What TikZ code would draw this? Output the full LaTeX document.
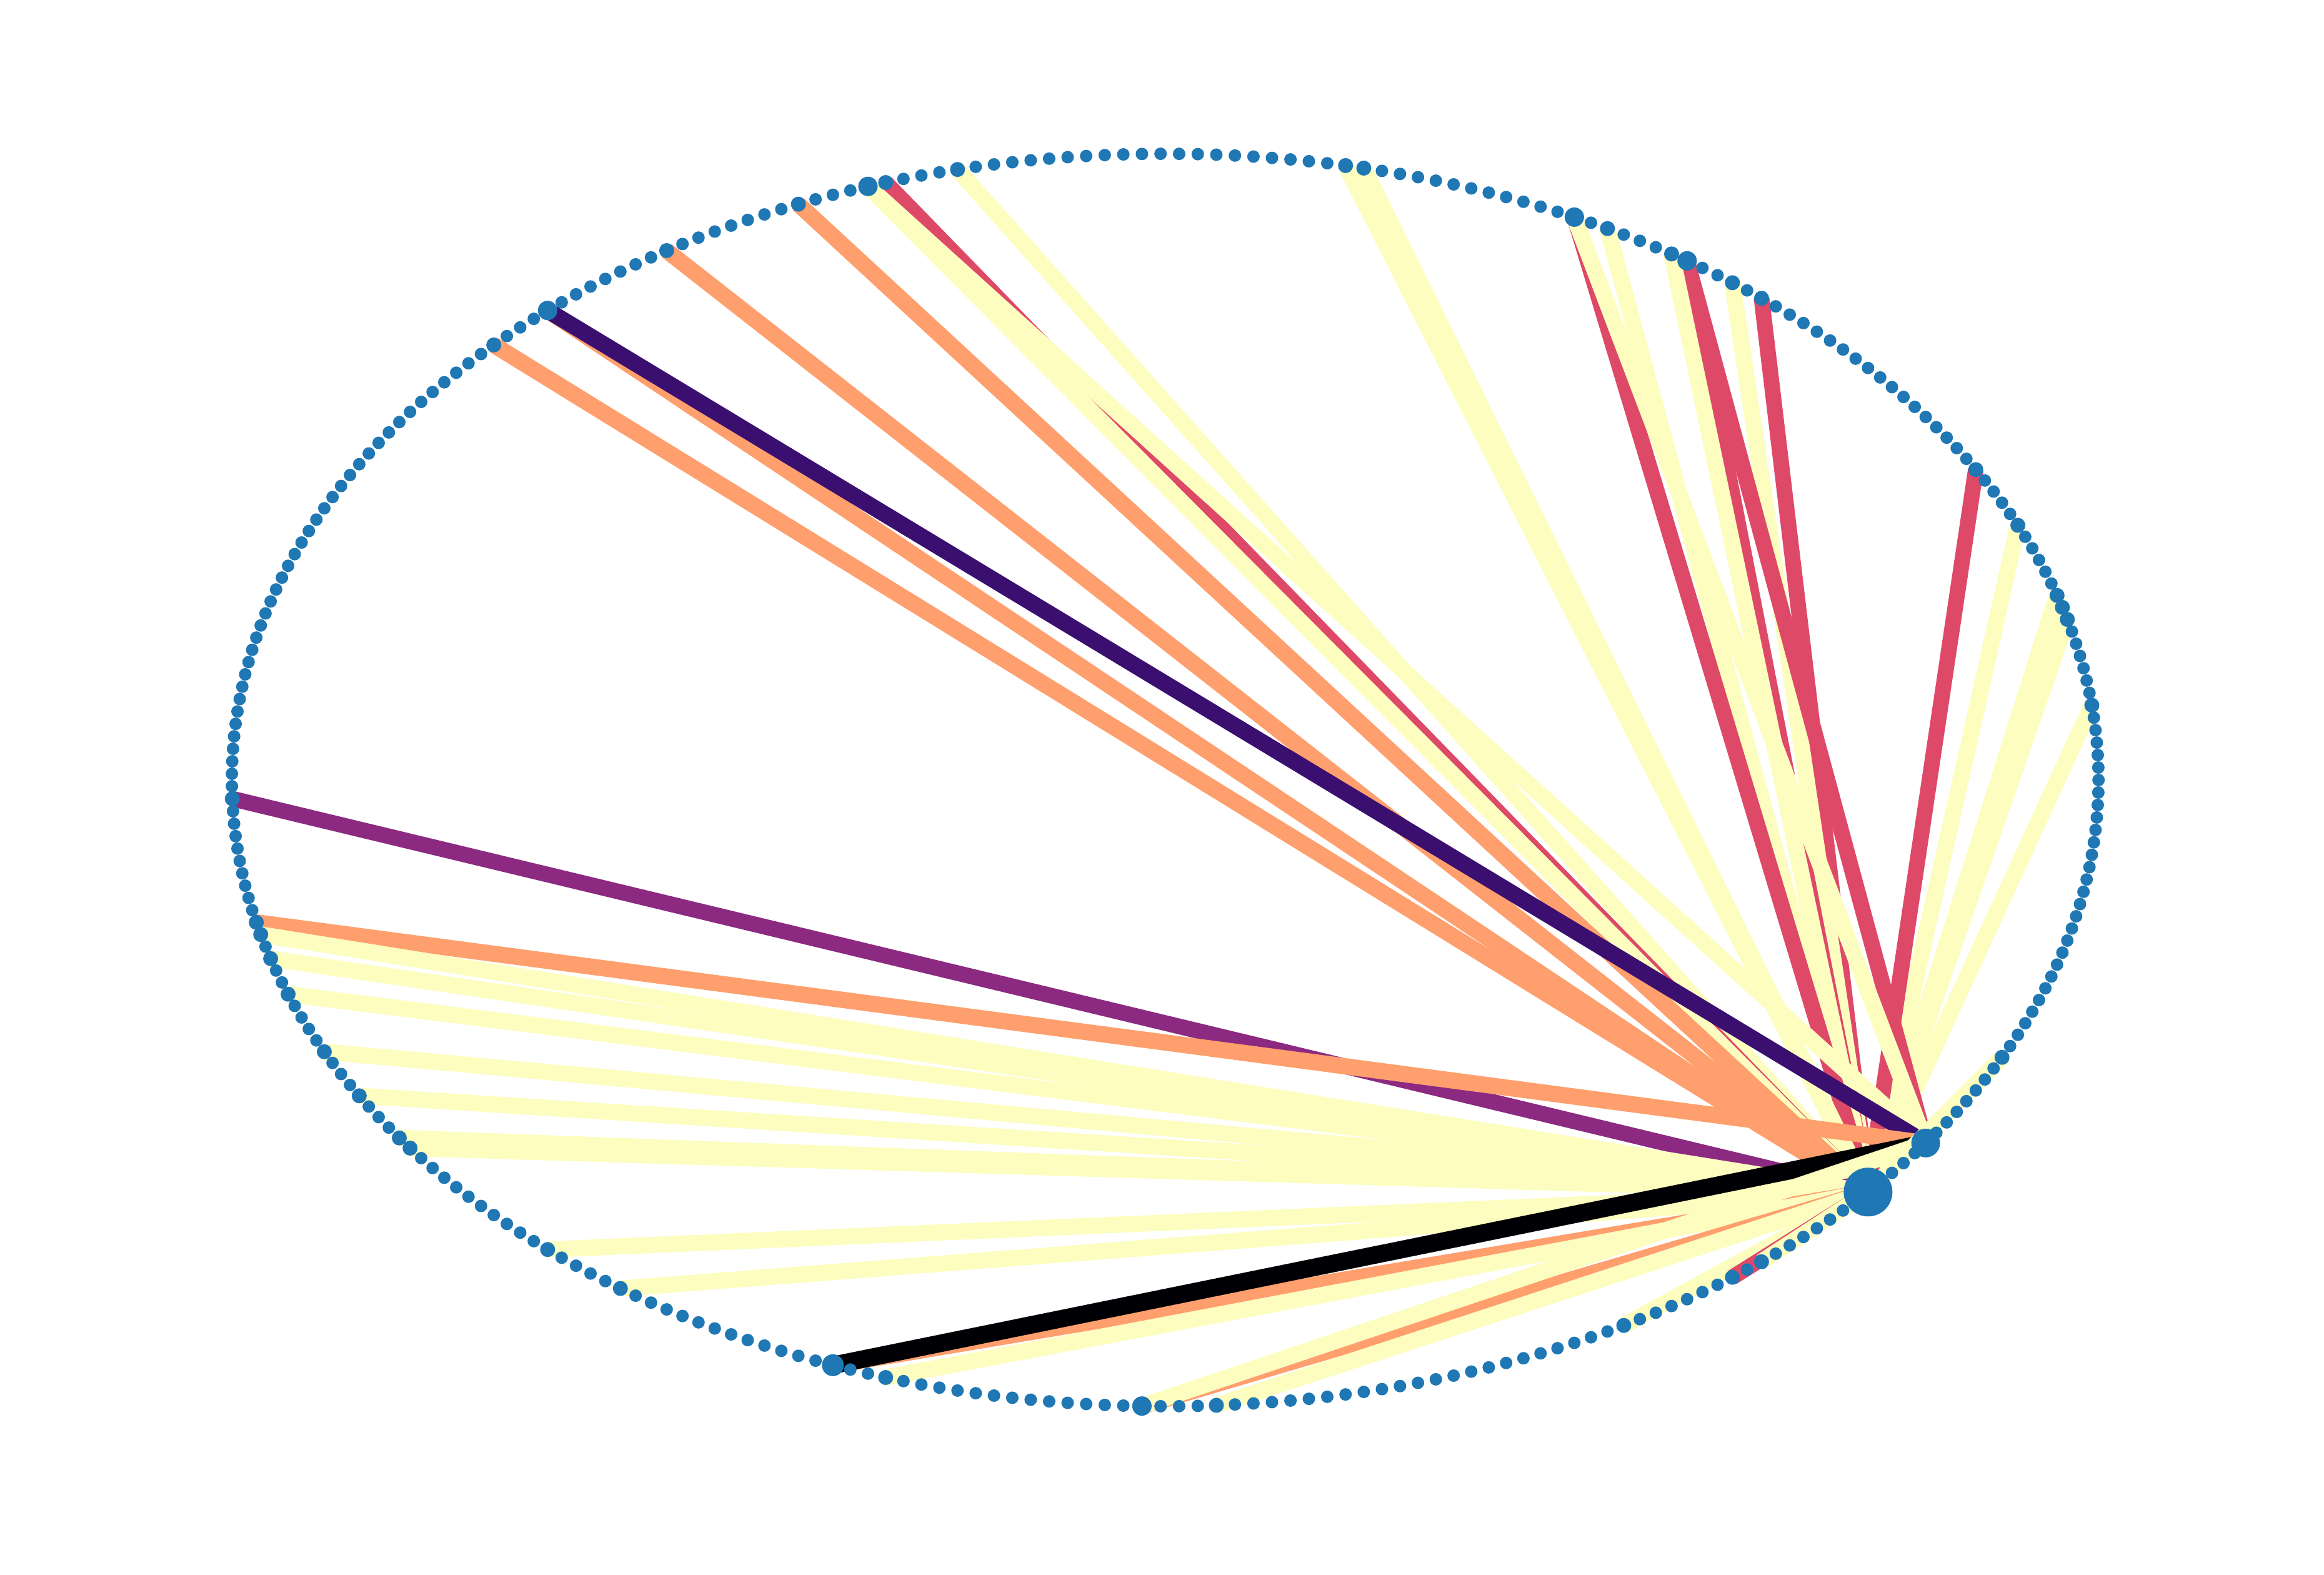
\documentclass[tikz,border=0pt]{standalone}
\usetikzlibrary{backgrounds}
\definecolor{nodeblue}{HTML}{1F77B4}
\definecolor{wblack}{HTML}{000004}
\definecolor{wdark}{HTML}{3B0F70}
\definecolor{wpurple}{HTML}{8C2981}
\definecolor{wred}{HTML}{DE4968}
\definecolor{worange}{HTML}{FE9F6D}
\definecolor{wyellow}{HTML}{FCFDBF}
\tikzset{
  dot/.style={circle, fill=nodeblue, inner sep=0pt, minimum size=0.2cm},
  lblack/.style={draw=wblack, line width=0.28cm},
  ldark/.style={draw=wdark, line width=0.26cm},
  lpurple/.style={draw=wpurple, line width=0.25cm},
  lred/.style={draw=wred, line width=0.25cm},
  lorange/.style={draw=worange, line width=0.26cm},
  lyellow/.style={draw=wyellow, line width=0.26cm}
}
\begin{document}
\begin{tikzpicture}
    \useasboundingbox (-18.646,-12.71) rectangle (18.544,12.48);
    % Nodes of the circular layout (315 nodes, 8/7 degree apart)
    \foreach \k in {0,...,314}
        \node[dot] (n\k) at ({14.936*cos(\k*8/7)},{10.02*sin(\k*8/7)}) {};
    % Nodes that carry links are bigger
    \foreach \k in {6,13,14,15,21,26,44,46,50,54,68,69,90,94,99,107,119,159,169,
                    170,172,175,180,184,188,189,200,205,221,239,262,269,271,292}
        \node[dot, minimum size=0.24cm] (m\k) at (n\k) {};
    \foreach \k in {49,56,95,115,235}
        \node[dot, minimum size=0.31cm] (m\k) at (n\k) {};
    \node[dot, minimum size=0.35cm] (m218) at (n218) {};
    \node[dot, minimum size=0.46cm] (hubA) at (n284) {};
    \node[dot, minimum size=0.78cm] (hubB) at (n279) {};

    % Links, drawn below the nodes
    \begin{scope}[on background layer]
        \foreach \s/\t/\c in {6/279/lyellow, 13/279/lyellow, 14/279/lyellow, 15/279/lyellow,
            21/279/lyellow, 26/279/lred, 44/279/lred, 46/279/lyellow, 49/279/lred, 49/284/lred,
            50/279/lyellow, 54/279/lyellow, 56/279/lred, 56/284/lyellow, 68/279/lyellow,
            69/279/lyellow, 90/279/lyellow, 94/279/lred, 95/279/lyellow, 95/284/lyellow,
            99/279/lorange, 107/279/lorange, 115/279/lorange, 115/284/ldark, 119/279/lorange,
            159/279/lpurple, 169/284/lorange, 170/279/lyellow, 172/279/lyellow, 175/279/lyellow,
            180/279/lyellow, 184/279/lyellow, 188/279/lyellow, 189/279/lyellow, 200/279/lyellow,
            205/279/lyellow, 218/279/lorange, 218/284/lblack, 221/279/lyellow, 235/279/lorange,
            235/284/lyellow, 239/279/lyellow, 262/279/lyellow, 269/279/lred, 271/279/lyellow,
            292/279/lyellow}
            \draw[\c] (n\s.center) -- (n\t.center);
    \end{scope}
\end{tikzpicture}
\end{document}
